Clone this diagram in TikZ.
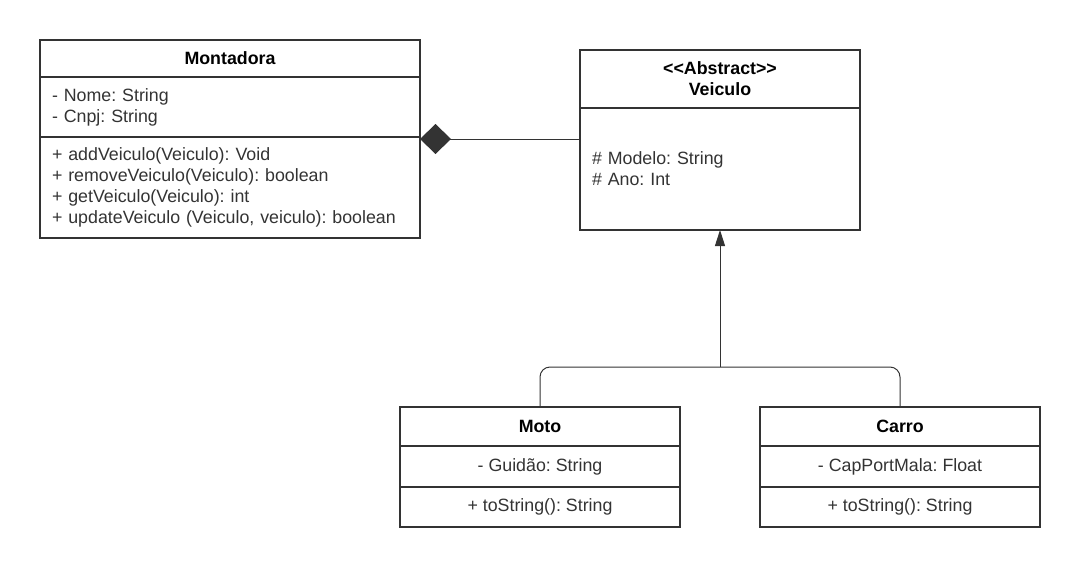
\documentclass[tikz,border=0pt]{standalone}
\usepackage{fontspec}
\setmainfont{Liberation Sans}
\frenchspacing
\usetikzlibrary{positioning,arrows.meta}
\definecolor{L1}{HTML}{333333}
\tikzset{compart/.style 2 args = {
    rectangle,
    minimum width = #1,
    minimum height = #2,
    inner sep = 0pt,
    outer sep = 0pt,
    draw = L1,
    line width = 1.6pt,
    text = L1,
    font = \fontsize{17.8}{21}\selectfont,
}}
\tikzset{
  head/.style = {font=\fontsize{17.8}{21}\selectfont\bfseries, text=black},
  link/.style = {draw=L1, line width=1pt},
}

\begin{document}
\begin{tikzpicture}[x=1pt,y=-1pt]
  \useasboundingbox (0,0) rectangle (1080,568);
  % Montadora
  \node[compart={380pt}{37pt},head,anchor=north west] (mont) at (40,40) {Montadora};
  \node[compart={380pt}{60pt},text width=356pt,align=left,below=0pt of mont] (montattr) {- Nome: String\\- Cnpj: String};
  \node[compart={380pt}{101pt},text width=356pt,align=left,below=0pt of montattr] (montmeth)
    {+ addVeiculo(Veiculo): Void\\+ removeVeiculo(Veiculo): boolean\\+ getVeiculo(Veiculo): int\\+ updateVeiculo (Veiculo, veiculo): boolean};
  % Veiculo
  \node[compart={280pt}{58pt},head,align=center,anchor=north west] (vei) at (580,50) {<{}<Abstract>{}>\\Veiculo};
  \node[compart={280pt}{122pt},text width=256pt,align=left,below=0pt of vei] (veiattr) {\# Modelo: String\\\# Ano: Int};
  % Moto
  \node[compart={280pt}{39pt},head,anchor=north west] (moto) at (400,407) {Moto};
  \node[compart={280pt}{41pt},below=0pt of moto] (motoattr) {- Guidão: String};
  \node[compart={280pt}{40pt},below=0pt of motoattr] (motometh) {+ toString(): String};
  % Carro
  \node[compart={280pt}{39pt},head,anchor=north west] (carro) at (760,407) {Carro};
  \node[compart={280pt}{41pt},below=0pt of carro] (carroattr) {- CapPortMala: Float};
  \node[compart={280pt}{40pt},below=0pt of carroattr] (carrometh) {+ toString(): String};
  % relations
  \draw[link,{Diamond[width=30pt,length=31pt]}-] ([yshift=-2pt]montmeth.north east) -- ([yshift=-2pt]veiattr.west |- montmeth.north);
  \coordinate (joint) at (720,367);
  \draw[link,rounded corners=10pt] (moto.north) |- (joint) -| (carro.north);
  \draw[link,-{Triangle[width=10pt,length=16pt]}] (joint) -- (veiattr.south);
\end{tikzpicture}
\end{document}
